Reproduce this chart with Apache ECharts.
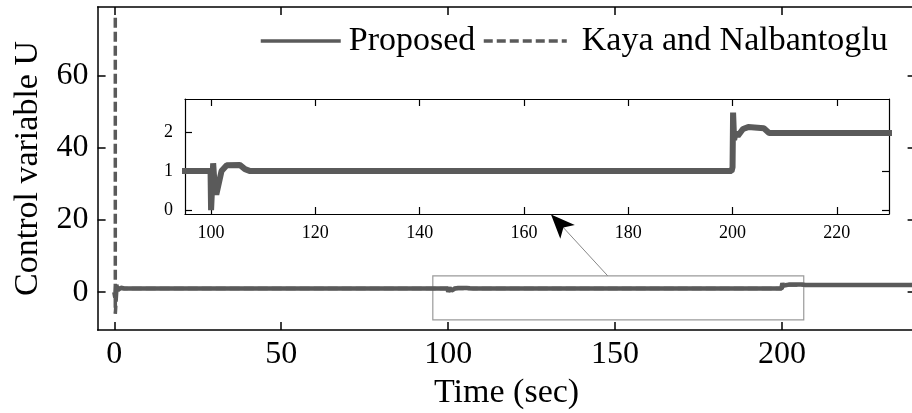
<!DOCTYPE html>
<html><head><meta charset="utf-8">
<script src="https://cdn.jsdelivr.net/npm/echarts@6/dist/echarts.min.js"></script>
<style>html,body{margin:0;padding:0;background:#fff}#c{width:912px;height:413px}</style>
</head><body><div id="c"></div>
<script>
const propTime  = [0, 0.3, 0.6, 1, 2, 3, 99.9, 100, 100.3, 100.4, 100.6, 101, 101.5, 102, 103, 105.5, 106.5, 107.5, 199.8, 200, 200.1, 200.3, 200.6, 201, 202, 203, 206, 207, 240];
const propValue = [0, -1.5, 2, 0.5, 1.2, 1, 1, 0, 0.05, 1.2, 0.8, 0.4, 0.7, 1.0, 1.15, 1.16, 1.05, 1, 1, 1.1, 2.5, 1.8, 2.0, 1.9, 2.08, 2.13, 2.1, 1.98, 1.98];
const kayaTime  = [0.3, 0.3, 0.8, 100, 200, 200.5, 240];
const kayaValue = [76, -6, 1, 1, 1, 2, 2];
const mainXTicks = [0, 50, 100, 150, 200];
const mainYTicks = [0, 20, 40, 60];
const insetXTicks = [100, 120, 140, 160, 180, 200, 220];
const insetYTicks = [0, 1, 2];

const FONT = 'Liberation Serif';
const LINE = '#5a5a5a';
const pairs = (t, v) => t.map((x, i) => [x, v[i]]);

function axis(grid, min, max, ticks, pos, showLabel, fs, len, lw, margin) {
  return {
    type: 'value', gridIndex: grid, min: min, max: max, position: pos,
    axisLine: { show: true, onZero: false, lineStyle: { color: '#000', width: lw } },
    axisTick: { show: true, inside: true, length: len, customValues: ticks, lineStyle: { color: '#000', width: lw } },
    axisLabel: { show: showLabel, customValues: ticks, fontSize: fs, fontFamily: FONT, color: '#000', margin: margin },
    splitLine: { show: false }
  };
}

const xMain = axis(0, -5, 240, mainXTicks, 'bottom', true, 32, 8, 1.5, 9);
xMain.name = 'Time (sec)'; xMain.nameLocation = 'middle'; xMain.nameGap = 42;
xMain.nameTextStyle = { fontSize: 34, fontFamily: FONT, color: '#000' };
const yMain = axis(0, -10.5, 79, mainYTicks, 'left', true, 32, 8, 1.5, 9);
yMain.name = 'Control variable U'; yMain.nameLocation = 'middle'; yMain.nameGap = 53;
yMain.nameTextStyle = { fontSize: 34, fontFamily: FONT, color: '#000' };

const option = {
  animation: false,
  backgroundColor: '#fff',
  grid: [
    { left: 97.6, top: 7, width: 818, height: 323, outerBoundsMode: 'none', containLabel: false },
    { left: 185, top: 99, width: 704, height: 115, show: true, backgroundColor: '#fff', borderWidth: 0, outerBoundsMode: 'none', containLabel: false }
  ],
  legend: [
    { data: ['Proposed'], left: 259, itemWidth: 80, top: 24, padding: 0, itemHeight: 2,
      itemStyle: { opacity: 0 }, lineStyle: { width: 3.5, color: LINE, type: 'solid' },
      textStyle: { fontSize: 34, fontFamily: FONT, color: '#000', padding: [0, 0, 0, 3] } },
    { data: ['Kaya and Nalbantoglu'], left: 482, itemWidth: 83, top: 24, padding: 0, itemHeight: 2,
      itemStyle: { opacity: 0 }, lineStyle: { width: 3.5, color: LINE, type: [9, 4] },
      textStyle: { fontSize: 34, fontFamily: FONT, color: '#000', padding: [0, 0, 0, 10] } }
  ],
  xAxis: [
    xMain,
    axis(0, -5, 240, mainXTicks, 'top', false, 32, 8, 1.5, 9),
    axis(1, 95, 230, insetXTicks, 'bottom', true, 18, 7, 1.2, 10),
    axis(1, 95, 230, insetXTicks, 'top', false, 18, 7, 1.2, 10)
  ],
  yAxis: [
    yMain,
    axis(0, -10.5, 79, mainYTicks, 'right', false, 32, 8, 1.5, 9),
    axis(1, -0.1, 2.85, insetYTicks, 'left', true, 18, 7, 1.2, 12),
    axis(1, -0.1, 2.85, insetYTicks, 'right', false, 18, 7, 1.2, 12)
  ],
  series: [
    { name: 'Kaya and Nalbantoglu', type: 'line', xAxisIndex: 0, yAxisIndex: 0, data: pairs(kayaTime, kayaValue),
      symbol: 'none', z: 2, lineStyle: { color: LINE, width: 3.5, type: [10, 4] }, itemStyle: { color: LINE } },
    { name: 'Proposed', type: 'line', xAxisIndex: 0, yAxisIndex: 0, data: pairs(propTime, propValue),
      symbol: 'none', z: 3, lineStyle: { color: LINE, width: 4.5 }, itemStyle: { color: LINE },
      markArea: { silent: true, itemStyle: { color: 'rgba(0,0,0,0)', borderColor: '#9a9a9a', borderWidth: 1.2 },
        data: [[{ coord: [95.4, 4.5] }, { coord: [206.5, -7.7] }]] },
      markLine: { silent: true, symbol: ['none', 'none'], label: { show: false },
        lineStyle: { color: '#888', width: 1, type: 'solid' },
        data: [[{ coord: [147.8, 4.5] }, { coord: [131, 21.4] }]] },
      markPoint: { silent: true, label: { show: false },
        data: [{ coord: [130.8, 21.5], symbol: 'arrow', symbolSize: [15, 24], symbolRotate: 43.6, itemStyle: { color: '#000' } }] }
    },
    { name: 'Proposed', type: 'line', xAxisIndex: 2, yAxisIndex: 2, data: pairs(propTime, propValue),
      symbol: 'none', z: 3, clip: true, lineStyle: { color: LINE, width: 6 }, itemStyle: { color: LINE } }
  ]
};
const chart = echarts.init(document.getElementById('c'), null, { renderer: 'canvas' });
chart.setOption(option);
</script></body></html>
